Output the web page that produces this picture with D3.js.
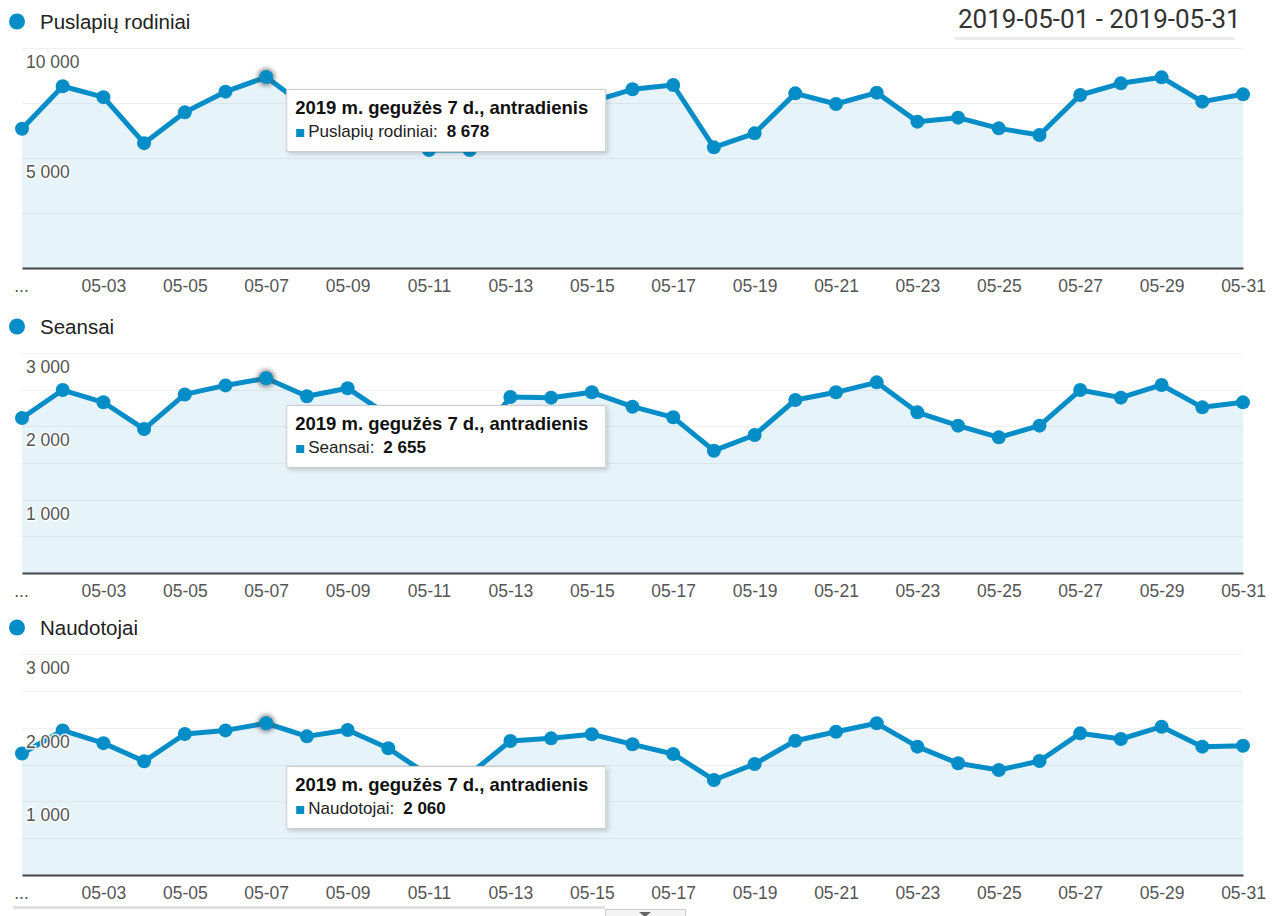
<!DOCTYPE html>
<html><head><meta charset="utf-8">
<script src="https://cdn.jsdelivr.net/npm/d3@7"></script>
<style>
body{margin:0;background:#fff;}
svg{display:block;font-family:Arial,"Liberation Sans",sans-serif;}
</style></head><body>
<svg id="c" width="1281" height="916"></svg>
<script>
// ---------- DATA ----------
const dates = ["2019-05-01","2019-05-02","2019-05-03","2019-05-04","2019-05-05","2019-05-06","2019-05-07","2019-05-08","2019-05-09","2019-05-10","2019-05-11","2019-05-12","2019-05-13","2019-05-14","2019-05-15","2019-05-16","2019-05-17","2019-05-18","2019-05-19","2019-05-20","2019-05-21","2019-05-22","2019-05-23","2019-05-24","2019-05-25","2019-05-26","2019-05-27","2019-05-28","2019-05-29","2019-05-30","2019-05-31"];
const tickDates = ["2019-05-01","2019-05-03","2019-05-05","2019-05-07","2019-05-09","2019-05-11","2019-05-13","2019-05-15","2019-05-17","2019-05-19","2019-05-21","2019-05-23","2019-05-25","2019-05-27","2019-05-29","2019-05-31"];
const tickLabels = ["...","05-03","05-05","05-07","05-09","05-11","05-13","05-15","05-17","05-19","05-21","05-23","05-25","05-27","05-29","05-31"];

const metricNames = ["Puslapių rodiniai","Seansai","Naudotojai"];
const pageviews = [6330,8260,7765,5675,7075,8015,8678,7300,7700,6800,5364,5364,7400,7350,7560,8123,8318,5485,6121,7939,7455,7970,6652,6833,6348,6045,7864,8394,8667,7561,7894];
const sessions  = [2114,2495,2328,1962,2435,2558,2655,2410,2520,2150,1720,1690,2400,2391,2464,2268,2123,1668,1882,2359,2464,2600,2191,2009,1850,2009,2495,2391,2564,2259,2327];
const users     = [1650,1962,1790,1543,1914,1963,2060,1882,1968,1720,1350,1370,1819,1855,1910,1774,1643,1290,1507,1823,1945,2059,1742,1516,1425,1547,1923,1846,2013,1742,1755];
const yMax = [10000,3000,3000];
const gridSteps = [2500,500,500];
const yLabelTicks = [[5000,10000],[1000,2000,3000],[1000,2000,3000]];
const dateRange = "2019-05-01 - 2019-05-31";
const tooltipTitle = "2019 m. gegužės 7 d., antradienis";
const highlightIndex = 6;

// ---------- LAYOUT ----------
const BLUE = "#058dc7";
const panelTops = [48, 353, 654];
const panelHeights = [220, 220, 221];
const tipOffsets = [41, 52, 112];
const X0 = 22, X1 = 1243;

const svg = d3.select("#c");
const defs = svg.append("defs");
const sh = defs.append("filter").attr("id","shadow").attr("x","-10%").attr("y","-20%").attr("width","125%").attr("height","150%");
sh.append("feDropShadow").attr("dx",2).attr("dy",2).attr("stdDeviation",2).attr("flood-color","#000").attr("flood-opacity",0.18);
const glow = defs.append("filter").attr("id","glow").attr("x","-100%").attr("y","-100%").attr("width","300%").attr("height","300%");
glow.append("feGaussianBlur").attr("stdDeviation",2);

const locale = d3.formatLocale({decimal:",", thousands:" ", grouping:[3], currency:["",""]});
const fmt = locale.format(",d");
const parse = d3.timeParse("%Y-%m-%d");
const dateObjs = dates.map(parse);
const x = d3.scaleTime().domain(d3.extent(dateObjs)).range([X0, X1]);

// date range header
svg.append("text").attr("x",958).attr("y",28).attr("font-family","Roboto, Arial, sans-serif")
  .attr("font-size",26).attr("fill","#333").text(dateRange);
svg.append("rect").attr("x",955).attr("y",37).attr("width",280).attr("height",3).attr("fill","#ebebeb");

const series = [pageviews, sessions, users];

series.forEach((vals, i) => {
  const top = panelTops[i], h = panelHeights[i];
  const base = top + h;
  const y = d3.scaleLinear().domain([0, yMax[i]]).range([base, top]);
  const g = svg.append("g");

  // header
  g.append("circle").attr("cx",17).attr("cy",top-26.5).attr("r",8).attr("fill",BLUE);
  g.append("text").attr("x",40).attr("y",top-19.5).attr("font-size",20.5).attr("fill","#222").text(metricNames[i]);

  const data = vals.map((v,k)=>({d:dateObjs[k], v}));

  // area
  g.append("path").datum(data)
    .attr("d", d3.area().x(p=>x(p.d)).y0(base).y1(p=>y(p.v)))
    .attr("fill","rgb(230,243,249)");

  // gridlines
  const grid = d3.range(gridSteps[i], yMax[i]+1, gridSteps[i]);
  g.append("g").selectAll("line").data(grid).join("line")
    .attr("x1",X0).attr("x2",X1).attr("y1",d=>Math.round(y(d))+0.5).attr("y2",d=>Math.round(y(d))+0.5)
    .attr("stroke","#000").attr("stroke-opacity",0.055);

  // x axis
  const ax = g.append("g").attr("transform",`translate(0,${base})`)
    .call(d3.axisBottom(x).tickValues(tickDates.map(parse)).tickSize(0).tickPadding(12)
      .tickFormat((d,k)=>tickLabels[k]));
  ax.select(".domain").attr("stroke","#444").attr("stroke-width",2);
  ax.selectAll("text").attr("font-size",17.5).attr("fill","#555").attr("font-family","Arial, 'Liberation Sans', sans-serif").attr("dy","0.71em");
  ax.selectAll(".tick").filter((d,k)=>k===0).select("text").attr("dx",-1);

  // line
  g.append("path").datum(data)
    .attr("d", d3.line().x(p=>x(p.d)).y(p=>y(p.v)))
    .attr("fill","none").attr("stroke",BLUE).attr("stroke-width",5).attr("stroke-linejoin","round");

  // highlight glow
  const hp = data[highlightIndex];
  g.append("circle").attr("cx",x(hp.d)).attr("cy",y(hp.v)).attr("r",9)
    .attr("fill","#555").attr("opacity",0.6).attr("filter","url(#glow)");

  // dots
  g.append("g").selectAll("circle").data(data).join("circle")
    .attr("cx",p=>x(p.d)).attr("cy",p=>y(p.v)).attr("r",7).attr("fill",BLUE);

  // y labels
  g.append("g").selectAll("text").data(yLabelTicks[i]).join("text")
    .attr("x",26).attr("y",d=>y(d)+20).attr("font-size",17.5).attr("fill","#555")
    .attr("stroke","#fff").attr("stroke-width",3).attr("stroke-opacity",0.85).attr("paint-order","stroke")
    .text(d=>fmt(d));

  // tooltip
  const tx = x(hp.d) + 20, ty = top + tipOffsets[i];
  const tg = g.append("g").attr("transform",`translate(${tx},${ty})`);
  tg.append("rect").attr("x",0.5).attr("y",0.5).attr("width",319).attr("height",62)
    .attr("fill","#fff").attr("stroke","#ccc").attr("filter","url(#shadow)");
  tg.append("text").attr("x",9).attr("y",24.5).attr("font-size",18.5).attr("font-weight","bold").attr("fill","#111").text(tooltipTitle);
  tg.append("rect").attr("x",10).attr("y",40).attr("width",8).attr("height",8).attr("fill",BLUE);
  const lab = tg.append("text").attr("x",22).attr("y",48).attr("font-size",17).attr("fill","#222").text(metricNames[i] + ":");
  const lw = lab.node().getComputedTextLength();
  tg.append("text").attr("x",22+lw+9).attr("y",48).attr("font-size",17).attr("font-weight","bold").attr("fill","#111").text(fmt(hp.v));
});

// bottom bar
svg.append("line").attr("x1",13).attr("x2",605).attr("y1",907.5).attr("y2",907.5).attr("stroke","#e0e0e0").attr("stroke-width",3);
svg.append("rect").attr("x",605.5).attr("y",909.5).attr("width",80).attr("height",12).attr("fill","#f4f4f4").attr("stroke","#ccc");
svg.append("path").attr("d","M639,912 L651,912 L645,917 Z").attr("fill","#666");
</script>
</body></html>
